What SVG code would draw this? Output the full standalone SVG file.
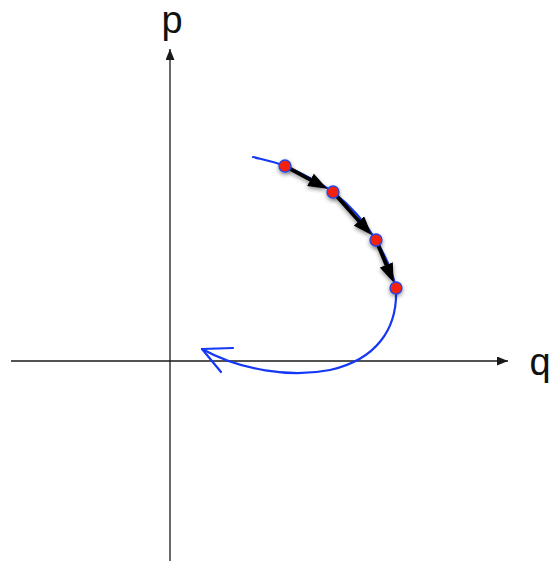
<svg xmlns="http://www.w3.org/2000/svg" width="552" height="563" viewBox="0 0 552 563">
<style>
.axis{stroke:#1a1a1a;stroke-width:1.3;fill:none}
.traj{stroke:#1438f5;stroke-width:2.2;fill:none;stroke-linecap:round;stroke-linejoin:round}
.step{stroke:#000;stroke-width:3.8;fill:none}
.dot{fill:#f4240c;stroke:#2646e8;stroke-width:1.3}
.lbl{font-family:"Liberation Sans",Arial,sans-serif;font-size:38px;fill:#111}
</style>
<defs>
<filter id="sh" x="-50%" y="-50%" width="200%" height="200%">
<feDropShadow dx="0" dy="2" stdDeviation="2" flood-color="#000" flood-opacity="0.45"/>
</filter>
<marker id="ax" markerUnits="userSpaceOnUse" markerWidth="11" markerHeight="9" refX="11" refY="4.5" orient="auto">
<path d="M0,0 L11,4.5 L0,9 z" fill="#1a1a1a"/>
</marker>
<marker id="ar" markerUnits="userSpaceOnUse" markerWidth="19" markerHeight="14" refX="8" refY="7" orient="auto">
<path d="M0,0 L19,7 L0,14 z" fill="#000"/>
</marker>
</defs>
<g id="axes">
<line class="axis" x1="11" y1="361" x2="508" y2="361" marker-end="url(#ax)"/>
<line class="axis" x1="170" y1="561" x2="170" y2="49" marker-end="url(#ax)"/>
</g>
<g id="labels">
<text class="lbl" x="172" y="33" text-anchor="middle">p</text>
<text class="lbl" x="540" y="375" text-anchor="middle">q</text>
</g>
<g id="trajectory">
<path class="traj" d="M253,157 C265,160 275,162 285,166 C303,174 319,182 333,192 C350,205 365,222 376,240 C385,255 392,270 396,288 C398,330 375,360 330,370 C290,378 240,370 202,349"/>
<path class="traj" d="M233,348 L202,349 L221,372"/>
</g>
<g id="connectors" filter="url(#sh)">
<line class="step" x1="285" y1="166" x2="317.5" y2="183.6" marker-end="url(#ar)"/>
<line class="step" x1="333" y1="192" x2="364.3" y2="226.9" marker-end="url(#ar)"/>
<line class="step" x1="376" y1="240" x2="389.4" y2="272.3" marker-end="url(#ar)"/>
</g>
<g id="p1" filter="url(#sh)"><circle class="dot" cx="285" cy="166" r="6"/></g>
<g id="p2" filter="url(#sh)"><circle class="dot" cx="333" cy="192" r="6"/></g>
<g id="p3" filter="url(#sh)"><circle class="dot" cx="376" cy="240" r="6"/></g>
<g id="p4" filter="url(#sh)"><circle class="dot" cx="396" cy="288" r="6"/></g>
</svg>
